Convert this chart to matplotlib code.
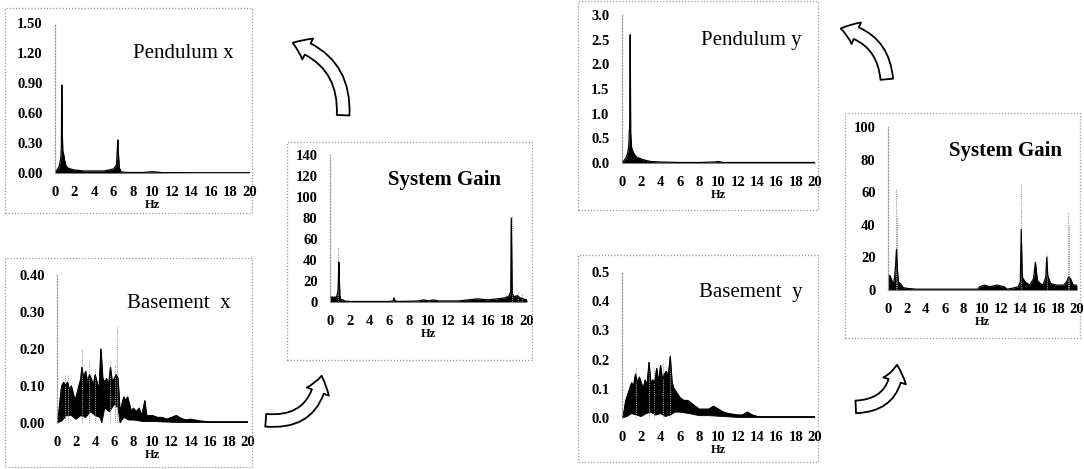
#!/usr/bin/env python3
"""
Pendulum / basement spectra and system gain, x and y directions (scanned figure recreation).
Saves out.png.
"""
import numpy as np
import matplotlib
matplotlib.use("Agg")
import matplotlib.pyplot as plt
from matplotlib.patches import Rectangle, FancyArrowPatch

W, H = 1084, 469

hz_ticks = [0, 2, 4, 6, 8, 10, 12, 14, 16, 18, 20]

# --- Pendulum x ---
pend_x_f = [0, 0.2, 0.4, 0.5, 0.6, 0.65, 0.7, 0.75, 0.8, 0.9, 1.0, 1.1, 1.3, 1.6, 2.0, 3.0,
            4.0, 5.0, 5.5, 6.0, 6.3, 6.45, 6.5, 6.6, 6.8, 7.5, 9.0, 9.8, 10.2, 11, 14, 17, 20]
pend_x_a = [0.02, 0.03, 0.06, 0.10, 0.16, 0.25, 0.88, 0.40, 0.22, 0.18, 0.12, 0.08, 0.05, 0.04,
            0.03, 0.02, 0.02, 0.02, 0.03, 0.04, 0.08, 0.33, 0.20, 0.05, 0.01, 0.005, 0.005,
            0.012, 0.012, 0.004, 0.003, 0.003, 0.003]
pend_x_yticks = [0.0, 0.3, 0.6, 0.9, 1.2, 1.5]
pend_x_ylabels = ["0.00", "0.30", "0.60", "0.90", "1.20", "1.50"]

# --- Basement x (upper / lower envelope of the dense trace) ---
base_x_f = [0, 0.2, 0.4, 0.5, 0.7, 0.9, 1.1, 1.3, 1.5, 1.7, 1.9, 2.1, 2.3, 2.5, 2.6, 2.8,
            3.0, 3.2, 3.4, 3.6, 3.8, 4.0, 4.2, 4.4, 4.5, 4.6, 4.8, 5.0, 5.2, 5.4, 5.6, 5.8,
            6.0, 6.2, 6.4, 6.6, 6.8, 7.0, 7.2, 7.4, 7.6, 7.8, 8.0, 8.3, 8.6, 8.9, 9.2, 9.4,
            9.7, 10.0, 10.5, 11.0, 11.5, 12.0, 12.5, 13.0, 13.5, 14.0, 15.0, 16.0, 18.0, 20.0]
base_x_hi = [0.00, 0.03, 0.08, 0.10, 0.11, 0.10, 0.11, 0.09, 0.10, 0.08, 0.06, 0.08, 0.10,
             0.12, 0.15, 0.12, 0.14, 0.11, 0.13, 0.12, 0.10, 0.13, 0.11, 0.09, 0.14, 0.20,
             0.12, 0.11, 0.12, 0.10, 0.15, 0.11, 0.12, 0.13, 0.12, 0.03, 0.05, 0.07, 0.06,
             0.07, 0.05, 0.03, 0.04, 0.03, 0.04, 0.02, 0.06, 0.02, 0.02, 0.02, 0.015, 0.015,
             0.01, 0.015, 0.02, 0.012, 0.008, 0.01, 0.005, 0.003, 0.003, 0.003]
base_x_lo_f = [0, 0.5, 1.0, 1.5, 2.0, 2.5, 3.0, 3.5, 4.0, 4.5, 4.7, 5.0, 5.5, 6.0, 6.4, 6.6,
               7.0, 7.5, 8.0, 9.0, 10.0, 12.0, 14.0, 20.0]
base_x_lo = [0.0, 0.005, 0.02, 0.02, 0.01, 0.02, 0.015, 0.03, 0.02, 0.015, 0.00, 0.04, 0.03,
             0.05, 0.04, 0.0, 0.015, 0.008, 0.008, 0.004, 0.004, 0.002, 0.001, 0.001]
base_x_spike_f = [0.8, 1.2, 2.6, 3.4, 4.0, 5.6, 6.1, 6.3]
base_x_spike_a = [0.13, 0.13, 0.20, 0.17, 0.15, 0.17, 0.16, 0.26]
base_x_yticks = [0.0, 0.1, 0.2, 0.3, 0.4]
base_x_ylabels = ["0.00", "0.10", "0.20", "0.30", "0.40"]

# --- System gain x ---
gain_x_f = [0, 0.2, 0.4, 0.5, 0.6, 0.7, 0.8, 0.85, 0.9, 1.0, 1.1, 1.3, 1.5, 2.0, 6.0, 6.4,
            6.5, 6.6, 7.0, 9.0, 9.5, 10.0, 10.5, 11.0, 13.0, 14.0, 15.0, 16.0, 17.0, 17.8,
            18.2, 18.35, 18.4, 18.5, 18.7, 19.0, 19.3, 19.6, 20.0]
gain_x_a = [4, 5, 4, 5, 3, 6, 10, 20, 38, 6, 2, 2, 1, 0.5, 0.5, 1, 4, 1, 0.5, 1, 2, 1, 2,
            1, 1, 2, 3, 2, 3, 4, 6, 10, 80, 8, 5, 6, 4, 3, 2]
gain_x_spike_f = [0.85, 18.45, 19.1, 19.5]
gain_x_spike_a = [52, 82, 10, 9]
gain_x_yticks = [0, 20, 40, 60, 80, 100, 120, 140]

# --- Pendulum y ---
pend_y_f = [0, 0.2, 0.4, 0.5, 0.6, 0.7, 0.8, 0.85, 0.9, 1.0, 1.2, 1.5, 2.0, 2.5, 3.0, 4.0,
            6.0, 8.0, 9.5, 10.0, 10.5, 12, 20]
pend_y_a = [0.02, 0.05, 0.1, 0.15, 0.22, 0.35, 0.8, 2.6, 0.6, 0.3, 0.2, 0.12, 0.08, 0.05,
            0.03, 0.02, 0.01, 0.01, 0.02, 0.03, 0.01, 0.01, 0.01]
pend_y_yticks = [0.0, 0.5, 1.0, 1.5, 2.0, 2.5, 3.0]

# --- Basement y ---
base_y_f = [0, 0.2, 0.4, 0.6, 0.8, 1.0, 1.2, 1.4, 1.6, 1.8, 2.0, 2.2, 2.4, 2.6, 2.8, 3.0,
            3.2, 3.4, 3.6, 3.8, 4.0, 4.2, 4.4, 4.6, 4.8, 5.0, 5.2, 5.4, 5.6, 5.8, 6.0, 6.4,
            6.8, 7.2, 7.6, 8.0, 8.5, 9.0, 9.5, 10.0, 10.5, 11.0, 12.0, 12.5, 13.0, 13.5,
            14.0, 15.0, 20.0]
base_y_hi = [0.0, 0.02, 0.06, 0.08, 0.10, 0.12, 0.11, 0.15, 0.12, 0.14, 0.12, 0.10, 0.13,
             0.11, 0.19, 0.12, 0.13, 0.12, 0.17, 0.12, 0.18, 0.13, 0.15, 0.16, 0.14, 0.21,
             0.12, 0.10, 0.09, 0.08, 0.07, 0.06, 0.06, 0.05, 0.04, 0.03, 0.03, 0.03, 0.04,
             0.03, 0.02, 0.015, 0.01, 0.01, 0.02, 0.01, 0.005, 0.004, 0.004]
base_y_lo_f = [0, 0.5, 1.0, 1.5, 2.0, 2.5, 3.0, 3.5, 4.0, 4.5, 5.0, 5.5, 6.0, 7.0, 8.0,
               9.0, 10.0, 12.0, 14.0, 20.0]
base_y_lo = [0.0, 0.005, 0.015, 0.01, 0.005, 0.015, 0.02, 0.01, 0.015, 0.005, 0.01, 0.02,
             0.02, 0.015, 0.008, 0.008, 0.006, 0.002, 0.001, 0.001]
base_y_spike_f = [1.5, 2.8, 3.3, 4.3, 5.0]
base_y_spike_a = [0.17, 0.20, 0.17, 0.19, 0.22]
base_y_yticks = [0.0, 0.1, 0.2, 0.3, 0.4, 0.5]

# --- System gain y ---
gain_y_f = [0, 0.2, 0.4, 0.55, 0.7, 0.8, 0.9, 1.0, 1.1, 1.3, 1.6, 2.0, 3.0, 6.0, 9.5, 9.7,
            10.2, 10.8, 11.5, 12.3, 12.6, 13.1, 13.8, 14.0, 14.1, 14.2, 14.5, 15.0, 15.4,
            15.6, 15.8, 16.1, 16.4, 16.7, 16.8, 16.9, 17.2, 17.8, 18.6, 18.9, 19.1, 19.3,
            19.6, 20.0]
gain_y_a = [8, 9, 6, 3, 8, 15, 25, 12, 5, 4, 1.5, 1, 0.5, 0.5, 0.5, 2, 3, 2, 3, 2, 0.5, 1,
            2, 5, 37, 8, 5, 3, 7, 17, 6, 4, 3, 8, 20, 9, 4, 3, 3, 5, 8, 7, 3, 3]
gain_y_spike_f = [0.85, 0.95, 14.1, 16.85, 19.1, 19.2]
gain_y_spike_a = [62, 45, 65, 22, 48, 40]
gain_y_yticks = [0, 20, 40, 60, 80, 100]

SERIF = "Liberation Serif"
GREY = "#9a9a9a"


def px_axes(fig, x0, y_top, x1, y_bot):
    # pixel box (y measured from the top) -> figure axes
    return fig.add_axes([x0 / W, 1 - y_bot / H, (x1 - x0) / W, (y_bot - y_top) / H])


def frame(fig, x0, y0, x1, y1):
    fig.patches.append(Rectangle((x0 / W, 1 - y1 / H), (x1 - x0) / W, (y1 - y0) / H,
                                 transform=fig.transFigure, fill=False, edgecolor=GREY,
                                 lw=0.9, linestyle=(0, (1, 1.5))))


def style_axes(ax, ymax, yticks, ylabels, title, title_xy, bold_title=False):
    ax.set_xlim(0, 20)
    ax.set_ylim(0, ymax)
    ax.set_xticks(hz_ticks)
    ax.set_xticklabels([str(t) for t in hz_ticks], fontfamily=SERIF, fontweight="bold",
                       fontsize=10.5)
    ax.set_yticks(yticks)
    ax.set_yticklabels(ylabels, fontfamily=SERIF, fontweight="bold", fontsize=10.5)
    ax.tick_params(length=0)
    ax.tick_params(axis="x", pad=9)
    ax.tick_params(axis="y", pad=9)
    for s in ["top", "right", "bottom"]:
        ax.spines[s].set_visible(False)
    ax.spines["left"].set_color(GREY)
    ax.spines["left"].set_linestyle((0, (1, 1.5)))
    ax.spines["left"].set_linewidth(0.9)
    ax.set_facecolor("none")
    ax.set_xlabel("Hz", fontfamily=SERIF, fontweight="bold", fontsize=9, labelpad=0)
    ax.text(title_xy[0], title_xy[1], title, transform=ax.transAxes, ha="center",
            va="center", fontfamily=SERIF, fontsize=15,
            fontweight="bold" if bold_title else "normal")


def line_panel(ax, f, a, spike_f=None, spike_a=None):
    if spike_f is not None:
        ax.vlines(spike_f, 0, spike_a, color=GREY, lw=0.8, linestyles=(0, (1, 1)))
    ax.fill_between(f, 0, a, color="black", lw=0)
    ax.plot(f, a, color="black", lw=0.9)


def band_panel(ax, f_hi, hi, f_lo, lo, spike_f, spike_a):
    ax.vlines(spike_f, 0, spike_a, color=GREY, lw=0.8, linestyles=(0, (1, 1)))
    xs = np.r_[np.asarray(f_hi, float), np.asarray(f_lo, float)[::-1]]
    ys = np.r_[np.asarray(hi, float), np.asarray(lo, float)[::-1]]
    ax.fill(xs, ys, color="black", lw=0.6)
    ax.plot(f_hi, hi, color="black", lw=0.9)


def arrow(fig, tail, head, rad):
    a = FancyArrowPatch((tail[0] / W, 1 - tail[1] / H), (head[0] / W, 1 - head[1] / H),
                        transform=fig.transFigure,
                        arrowstyle="simple,head_length=0.9,head_width=1.3,tail_width=0.7",
                        mutation_scale=13, connectionstyle=f"arc3,rad={rad}",
                        facecolor="white", edgecolor="black", lw=1.3)
    fig.patches.append(a)


def main():
    fig = plt.figure(figsize=(W / 100, H / 100), dpi=100)

    # panel frames
    frame(fig, 5, 8, 252, 213)
    frame(fig, 5, 258, 252, 467)
    frame(fig, 287, 142, 532, 360)
    frame(fig, 578, 1, 818, 210)
    frame(fig, 578, 255, 818, 462)
    frame(fig, 845, 113, 1080, 338)

    # Pendulum x
    ax = px_axes(fig, 55, 23, 250, 173)
    line_panel(ax, pend_x_f, pend_x_a)
    style_axes(ax, 1.5, pend_x_yticks, pend_x_ylabels, "Pendulum x", (0.66, 0.80))

    # Basement x
    ax = px_axes(fig, 57, 275, 248, 423)
    band_panel(ax, base_x_f, base_x_hi, base_x_lo_f, base_x_lo, base_x_spike_f, base_x_spike_a)
    style_axes(ax, 0.4, base_x_yticks, base_x_ylabels, "Basement  x", (0.64, 0.81))

    # System gain x
    ax = px_axes(fig, 330, 155, 527, 302)
    line_panel(ax, gain_x_f, gain_x_a, gain_x_spike_f, gain_x_spike_a)
    style_axes(ax, 140, gain_x_yticks, [str(t) for t in gain_x_yticks], "System Gain",
               (0.58, 0.83), bold_title=True)

    # Pendulum y
    ax = px_axes(fig, 622, 15, 815, 163)
    line_panel(ax, pend_y_f, pend_y_a)
    style_axes(ax, 3.0, pend_y_yticks, [f"{t:.1f}" for t in pend_y_yticks], "Pendulum y",
               (0.67, 0.83))

    # Basement y
    ax = px_axes(fig, 622, 272, 815, 418)
    band_panel(ax, base_y_f, base_y_hi, base_y_lo_f, base_y_lo, base_y_spike_f, base_y_spike_a)
    style_axes(ax, 0.5, base_y_yticks, [f"{t:.1f}" for t in base_y_yticks], "Basement  y",
               (0.67, 0.86))

    # System gain y
    ax = px_axes(fig, 888, 127, 1077, 290)
    line_panel(ax, gain_y_f, gain_y_a, gain_y_spike_f, gain_y_spike_a)
    style_axes(ax, 100, gain_y_yticks, [str(t) for t in gain_y_yticks], "System Gain",
               (0.62, 0.85), bold_title=True)

    # curved arrows
    arrow(fig, (343, 118), (290, 42), 0.4)
    arrow(fig, (263, 420), (322, 373), 0.5)
    arrow(fig, (887, 82), (838, 28), 0.4)
    arrow(fig, (853, 407), (897, 362), 0.5)

    fig.savefig("out.png", dpi=100, facecolor="white")
    print("Saved plot to out.png")


if __name__ == "__main__":
    main()
